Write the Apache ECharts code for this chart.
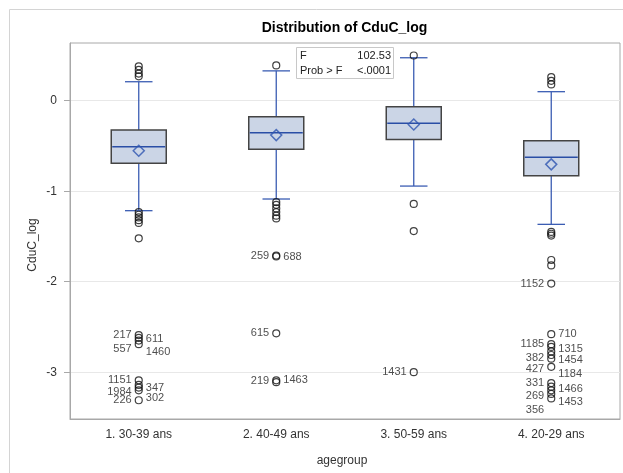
<!DOCTYPE html>
<html><head><meta charset="utf-8">
<script src="https://cdn.jsdelivr.net/npm/echarts@6/dist/echarts.min.js"></script>
<style>html,body{margin:0;padding:0;background:#fff}#c{width:623px;height:473px}</style>
</head><body><div id="c"></div>
<script>
const categories = ['1. 30-39 ans', '2. 40-49 ans', '3. 50-59 ans', '4. 20-29 ans'];
// [lower whisker, Q1, median, Q3, upper whisker]
const boxStats = [
  [-1.215, -0.692, -0.508, -0.324, 0.21],
  [-1.086, -0.537, -0.354, -0.177, 0.33],
  [-0.943, -0.427, -0.250, -0.066, 0.475],
  [-1.366, -0.829, -0.625, -0.442, 0.10]
];
const means = [-0.552, -0.380, -0.262, -0.703];
const outliersG1 = [0.38, 0.34, 0.30, 0.27, -1.23, -1.26, -1.29, -1.32, -1.35, -1.52];
const outliersG2 = [0.39, -1.12, -1.15, -1.19, -1.23, -1.27, -1.30];
const outliersG3 = [0.50, -1.14, -1.44];
const outliersG4 = [0.26, 0.22, 0.18, -1.45, -1.47, -1.49, -1.76, -1.82];
// labeled outliers: [group index, value, id]
const labeledOutliers = [
  [0, -2.59, '217'], [0, -2.62, '611'], [0, -2.65, '557'], [0, -2.69, '1460'],
  [0, -3.09, '1151'], [0, -3.14, '347'], [0, -3.17, '1984'], [0, -3.20, '302'], [0, -3.31, '226'],
  [1, -1.71, '259'], [1, -1.72, '688'], [1, -2.57, '615'], [1, -3.09, '219'], [1, -3.11, '1463'],
  [2, -3.00, '1431'],
  [3, -2.02, '1152'], [3, -2.58, '710'], [3, -2.69, '1185'], [3, -2.72, '1315'], [3, -2.77, '382'],
  [3, -2.81, '1454'], [3, -2.85, '1184'], [3, -2.94, '427'],
  [3, -3.12, '331'], [3, -3.16, '1466'], [3, -3.20, '269'], [3, -3.24, '1453'], [3, -3.29, '356']
];
const statF = '102.53';
const statP = '<.0001';
const yTicks = [-3, -2, -1, 0];

// label placement (side, vertical shift in px) for readability
const labelLayout = {
  '217': ['left', 0], '611': ['right', 1], '557': ['left', 8], '1460': ['right', 8],
  '1151': ['left', 0], '347': ['right', 3], '1984': ['left', 4], '302': ['right', 8], '226': ['left', 0],
  '259': ['left', 0], '688': ['right', 1], '615': ['left', 0], '219': ['left', 1], '1463': ['right', -2],
  '1431': ['left', 0],
  '1152': ['left', 0], '710': ['right', 0], '1185': ['left', 0], '1315': ['right', 2], '382': ['left', 7],
  '1454': ['right', 5], '1184': ['right', 15], '427': ['left', 2],
  '331': ['left', 0], '1466': ['right', 2], '269': ['left', 6], '1453': ['right', 8], '356': ['left', 12]
};

const FONT = 'Liberation Sans, Arial, sans-serif';
const boxData = boxStats.map((s, i) => [i].concat(s));
const outlierData = [];
[outliersG1, outliersG2, outliersG3, outliersG4].forEach((arr, gi) => arr.forEach(v => outlierData.push([gi, v])));
const labeledData = labeledOutliers.map(o => {
  const lay = labelLayout[o[2]] || ['left', 0];
  return {value: [o[0], o[1], o[2]], label: {position: lay[0], offset: [0, lay[1]]}};
});

const chart = echarts.init(document.getElementById('c'), null, {renderer: 'canvas'});
chart.setOption({
  animation: false,
  backgroundColor: '#fff',
  textStyle: {fontFamily: FONT},
  grid: {left: 70, right: 3, top: 43, bottom: 54, show: true, borderColor: '#A8A8A8', borderWidth: 1, containLabel: false},
  xAxis: {
    type: 'category', data: categories, boundaryGap: true,
    axisLine: {onZero: false, lineStyle: {color: '#A8A8A8'}},
    axisTick: {alignWithLabel: true, length: 5, lineStyle: {color: '#A8A8A8'}},
    axisLabel: {color: '#333', fontSize: 12, margin: 10, fontFamily: FONT},
    splitLine: {show: false}
  },
  yAxis: {
    type: 'value', min: -3.517, max: 0.638, splitNumber: 5,
    axisLine: {show: true, lineStyle: {color: '#A8A8A8'}},
    axisTick: {show: true, length: 6, lineStyle: {color: '#A8A8A8'}, customValues: yTicks},
    axisLabel: {color: '#333', fontSize: 12, margin: 13, fontFamily: FONT, customValues: yTicks},
    splitLine: {show: true, lineStyle: {color: '#E8E8E8'}}
  },
  graphic: [
    {type: 'rect', silent: true, z: -10, shape: {x: 9.5, y: 9.5, width: 700, height: 600}, style: {fill: 'none', stroke: '#D4D4D4', lineWidth: 1}},
    {type: 'text', x: 344.5, y: 28, style: {text: 'Distribution of CduC_log', font: 'bold 14px ' + FONT, fill: '#000', textAlign: 'center', textVerticalAlign: 'middle'}},
    {type: 'text', x: 342, y: 461, style: {text: 'agegroup', font: '12px ' + FONT, fill: '#333', textAlign: 'center', textVerticalAlign: 'middle'}},
    {type: 'text', x: 33, y: 245, rotation: Math.PI / 2, style: {text: 'CduC_log', font: '12px ' + FONT, fill: '#333', textAlign: 'center', textVerticalAlign: 'middle'}},
    {type: 'rect', z: 50, shape: {x: 296.5, y: 47.5, width: 97, height: 31}, style: {fill: '#fff', stroke: '#C8C8C8', lineWidth: 1}},
    {type: 'text', z: 51, x: 300, y: 55.5, style: {text: 'F', font: '11px ' + FONT, fill: '#222', textVerticalAlign: 'middle'}},
    {type: 'text', z: 51, x: 391, y: 55.5, style: {text: statF, font: '11px ' + FONT, fill: '#222', textAlign: 'right', textVerticalAlign: 'middle'}},
    {type: 'text', z: 51, x: 300, y: 70.5, style: {text: 'Prob > F', font: '11px ' + FONT, fill: '#222', textVerticalAlign: 'middle'}},
    {type: 'text', z: 51, x: 391, y: 70.5, style: {text: statP, font: '11px ' + FONT, fill: '#222', textAlign: 'right', textVerticalAlign: 'middle'}}
  ],
  series: [
    {
      type: 'custom', data: boxData, z: 2,
      renderItem: function (params, api) {
        const x = api.value(0);
        const lo = api.coord([x, api.value(1)]);
        const q1 = api.coord([x, api.value(2)]);
        const md = api.coord([x, api.value(3)]);
        const q3 = api.coord([x, api.value(4)]);
        const hi = api.coord([x, api.value(5)]);
        const band = api.size([1, 0])[0];
        const bw = band * 0.40, cw = band * 0.20, cx = lo[0];
        const wc = '#3B5DB3';
        const ls = {stroke: wc, lineWidth: 1.3};
        return {type: 'group', children: [
          {type: 'line', shape: {x1: cx, y1: hi[1], x2: cx, y2: q3[1]}, style: ls},
          {type: 'line', shape: {x1: cx, y1: q1[1], x2: cx, y2: lo[1]}, style: ls},
          {type: 'line', shape: {x1: cx - cw / 2, y1: hi[1], x2: cx + cw / 2, y2: hi[1]}, style: ls},
          {type: 'line', shape: {x1: cx - cw / 2, y1: lo[1], x2: cx + cw / 2, y2: lo[1]}, style: ls},
          {type: 'rect', shape: {x: cx - bw / 2, y: q3[1], width: bw, height: q1[1] - q3[1]}, style: {fill: '#CBD5E6', stroke: '#444', lineWidth: 1.5}},
          {type: 'line', shape: {x1: cx - bw / 2 + 1, y1: md[1], x2: cx + bw / 2 - 1, y2: md[1]}, style: {stroke: '#2A4EA6', lineWidth: 1.5}}
        ]};
      }
    },
    {
      type: 'scatter', z: 4, data: means.map((m, i) => [i, m]),
      symbol: 'diamond', symbolSize: [11, 11],
      itemStyle: {color: 'rgba(0,0,0,0)', borderColor: '#2E55B0', borderWidth: 1.5}
    },
    {
      type: 'scatter', z: 3, data: outlierData,
      symbol: 'circle', symbolSize: 7,
      itemStyle: {color: 'rgba(0,0,0,0)', borderColor: '#111', borderWidth: 1.2}
    },
    {
      type: 'scatter', z: 3, data: labeledData,
      symbol: 'circle', symbolSize: 7,
      itemStyle: {color: 'rgba(0,0,0,0)', borderColor: '#111', borderWidth: 1.2},
      label: {show: true, distance: 3, fontSize: 11, color: '#222', fontFamily: FONT, formatter: p => p.value[2]}
    }
  ]
});
</script></body></html>
